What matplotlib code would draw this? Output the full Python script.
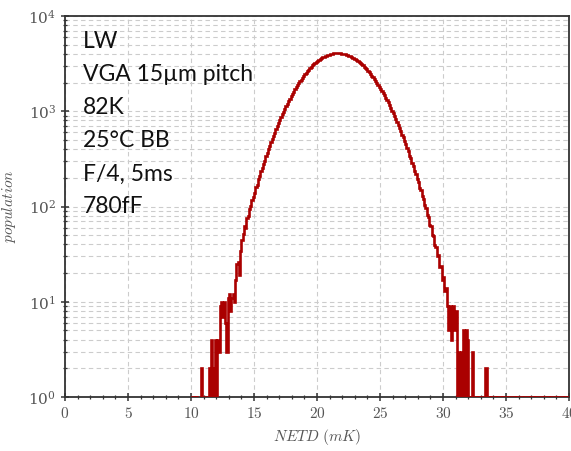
#!/usr/bin/env python3
import numpy as np
import matplotlib
matplotlib.use("Agg")
import matplotlib.pyplot as plt
from matplotlib.ticker import MultipleLocator, LogLocator, FuncFormatter

# histogram of NETD, 0.1 mK bins from 10.0 to 40.0 mK (one row per mK)
bin_start = 10.0
bin_width = 0.1
counts = [
    0, 1, 0, 0, 1, 0, 0, 0, 2, 0,                                   # 10
    0, 1, 0, 0, 2, 0, 4, 0, 2, 4,                                   # 11
    0, 4, 3, 9, 10, 7, 10, 6, 3, 11,                                # 12
    12, 8, 11, 12, 10, 17, 25, 26, 19, 34,                          # 13
    45, 52, 62, 60, 76, 80, 95, 101, 118, 125,                      # 14
    140, 160, 170, 193, 208, 235, 252, 282, 303, 338,               # 15
    362, 401, 430, 474, 508, 556, 595, 649, 694, 753,               # 16
    808, 861, 930, 988, 1060, 1124, 1205, 1273, 1358, 1432,         # 17
    1523, 1600, 1694, 1779, 1878, 1965, 2065, 2154, 2258, 2347,     # 18
    2452, 2544, 2646, 2739, 2842, 2928, 3031, 3115, 3210, 3290,     # 19
    3377, 3452, 3536, 3602, 3677, 3733, 3797, 3842, 3903, 3936,     # 20
    3982, 4005, 4039, 4051, 4070, 4071, 4077, 4064, 4059, 4036,     # 21
    4021, 3985, 3959, 3913, 3877, 3821, 3775, 3709, 3654, 3580,     # 22
    3517, 3435, 3365, 3277, 3202, 3108, 3028, 2930, 2847, 2746,     # 23
    2660, 2558, 2471, 2368, 2281, 2179, 2093, 1992, 1908, 1810,     # 24
    1729, 1633, 1555, 1464, 1391, 1305, 1237, 1155, 1092, 1016,     # 25
    959, 888, 836, 770, 724, 664, 623, 569, 533, 484,               # 26
    452, 409, 381, 343, 320, 286, 266, 237, 221, 194,               # 27
    182, 158, 148, 128, 121, 103, 97, 82, 78, 64,                   # 28
    62, 50, 49, 39, 38, 30, 31, 23, 24, 17,                         # 29
    18, 13, 14, 9, 5, 9, 4, 8, 9, 5,                                # 30
    8, 0, 3, 0, 3, 1, 5, 0, 5, 4,                                   # 31
    0, 1, 0, 3, 0, 1, 1, 0, 1, 1,                                   # 32
    1, 0, 0, 2, 2, 0, 1, 0, 1, 1,                                   # 33
    1, 1, 0, 1, 1, 1, 0, 1, 1, 1,                                   # 34
    1, 0, 1, 1, 1, 1, 1, 0, 1, 1,                                   # 35
    1, 1, 1, 0, 1, 1, 1, 1, 0, 1,                                   # 36
    1, 1, 0, 1, 1, 1, 1, 1, 1, 0,                                   # 37
    1, 1, 1, 1, 0, 1, 1, 1, 1, 1,                                   # 38
    0, 1, 1, 1, 1, 0, 1, 1, 1, 1,                                   # 39
]

info_lines = ["LW", "VGA 15\u00b5m pitch", "82K", "25\u00b0C BB", "F/4, 5ms", "780fF"]

plt.rcParams["mathtext.fontset"] = "cm"
plt.rcParams["font.family"] = "serif"
plt.rcParams["font.serif"] = ["DejaVu Serif"]

edges = bin_start + bin_width * np.arange(len(counts) + 1)

fig = plt.figure(figsize=(5.71, 4.51), dpi=100)
ax = fig.add_axes([0.1138, 0.1197, 0.8827, 0.8448])

ax.stairs(counts, edges, baseline=None, color="#aa0000", lw=1.9, zorder=3)

ax.set_yscale("log")
ax.set_xlim(0, 40)
ax.set_ylim(1, 1e4)

ax.xaxis.set_major_locator(MultipleLocator(5))
ax.xaxis.set_minor_locator(MultipleLocator(1))
ax.xaxis.set_major_formatter(FuncFormatter(lambda v, p: r"$%d$" % v))
ax.yaxis.set_major_locator(LogLocator(base=10))
ax.yaxis.set_minor_locator(LogLocator(base=10, subs=np.arange(2, 10)))

# dashed grid, x only on majors, y on majors and minors
ax.grid(which="major", axis="x", color="#cccccc", ls=(0, (4, 3)), lw=0.8)
ax.grid(which="both", axis="y", color="#cccccc", ls=(0, (4, 3)), lw=0.8)
ax.set_axisbelow(True)

for s in ax.spines.values():
    s.set_color("#333333")
    s.set_linewidth(1.3)
ax.tick_params(which="major", direction="inout", length=6, width=1.1,
               colors="#333333", labelcolor="#555555", labelsize=11)
ax.tick_params(which="minor", direction="inout", length=3.5, width=0.9, colors="#333333")

ax.set_xlabel(r"$NETD\ (mK)$", fontsize=11, color="#555555", labelpad=4)
ax.set_ylabel(r"$population$", fontsize=11, color="#555555", labelpad=7)

for i, line in enumerate(info_lines):
    ax.text(0.036, 0.915 - i * 0.0866, line, transform=ax.transAxes,
            family="Lato", fontsize=16.5, color="#111111", va="baseline", ha="left")

fig.savefig("out.png", dpi=100)
